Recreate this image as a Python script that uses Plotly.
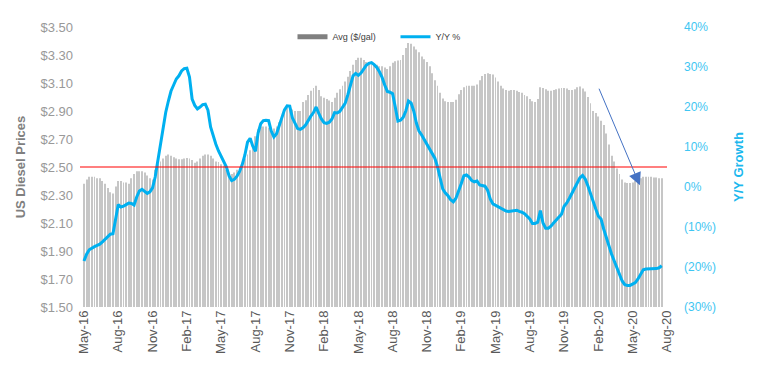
import plotly.graph_objects as go

# ---------------- data ----------------
tick_labels = ["May-16", "Aug-16", "Nov-16", "Feb-17", "May-17", "Aug-17", "Nov-17", "Feb-18",
               "May-18", "Aug-18", "Nov-18", "Feb-19", "May-19", "Aug-19", "Nov-19", "Feb-20",
               "May-20", "Aug-20"]

avg_price = [
    2.38, 2.41, 2.43, 2.43, 2.43, 2.42, 2.42, 2.40, 2.38, 2.35, 2.32, 2.31, 2.36, 2.40, 2.40,
    2.39, 2.39, 2.38, 2.42, 2.45, 2.47, 2.47, 2.47, 2.46, 2.44, 2.42, 2.41, 2.48, 2.52, 2.54,
    2.56, 2.58, 2.59, 2.58, 2.57, 2.56, 2.555,
    2.555, 2.56, 2.565, 2.56, 2.55, 2.53, 2.54, 2.56, 2.58, 2.59, 2.59, 2.58, 2.56, 2.54, 2.535,
    2.52, 2.51, 2.48, 2.45, 2.45, 2.46, 2.48, 2.50, 2.53, 2.56, 2.59, 2.62, 2.65, 2.72, 2.77,
    2.79, 2.79, 2.79, 2.78, 2.78, 2.775,
    2.79, 2.82, 2.85, 2.89, 2.925, 2.94, 2.91, 2.90, 2.90, 2.90, 2.965, 2.977, 3.015, 3.045,
    3.065, 3.08, 3.05, 3.005, 2.995, 2.985, 2.975, 2.965, 2.995, 3.03, 3.055, 3.08, 3.11, 3.145,
    3.185, 3.23, 3.265, 3.28, 3.28, 3.265, 3.25, 3.245,
    3.235, 3.23, 3.23, 3.22, 3.22, 3.21, 3.20, 3.22, 3.245, 3.255, 3.26, 3.265, 3.30, 3.35,
    3.385, 3.38, 3.36, 3.34, 3.32, 3.29, 3.27, 3.25, 3.22, 3.17, 3.12, 3.08, 3.03, 2.99, 2.97,
    2.965, 2.965, 2.965, 2.98, 3.02, 3.05, 3.07,
    3.08, 3.08, 3.08, 3.08, 3.09, 3.12, 3.15, 3.165, 3.17, 3.165, 3.16, 3.14, 3.11, 3.08, 3.06,
    3.05, 3.045, 3.05, 3.05, 3.045, 3.035, 3.03, 3.015, 3.005, 2.985, 2.97, 2.965, 2.985, 3.07,
    3.065, 3.055, 3.045, 3.045, 3.05, 3.055, 3.06, 3.065,
    3.065, 3.06, 3.05, 3.05, 3.055, 3.07, 3.075, 3.06, 3.04, 3.00, 2.955, 2.90, 2.885, 2.86,
    2.83, 2.80, 2.74, 2.66, 2.58, 2.54, 2.49, 2.45, 2.41, 2.39, 2.385, 2.385, 2.39, 2.40, 2.41,
    2.42, 2.43, 2.43, 2.43, 2.43, 2.425, 2.425, 2.42, 2.42,
]

yoy_pct = [
    -18.5, -16.8, -15.7, -15.2, -14.9, -14.6, -14.3, -13.7, -13.0, -12.3, -11.8, -11.7, -8.5,
    -4.4, -5.0, -4.8, -4.4, -4.0, -4.1, -4.5, -2.5, -1.0, -0.6, -1.2, -1.6, -1.2, -0.2, 2.5,
    6.5, 11.2, 15.2, 18.7, 21.5, 24.0, 25.5, 27.0, 27.8,
    29.0, 29.6, 29.7, 27.5, 22.0, 20.4, 19.5, 20.0, 20.6, 20.7, 19.2, 15.0, 12.6, 10.7, 9.0,
    7.7, 6.7, 5.0, 2.8, 1.6, 1.9, 2.7, 3.9, 5.6, 8.0, 11.2, 12.2, 10.2, 8.9, 13.5, 15.8, 16.6,
    16.7, 16.6, 14.0, 12.5,
    13.3, 15.3, 17.6, 19.3, 20.3, 20.2, 17.3, 15.9, 14.6, 14.4, 14.8, 15.5, 16.8, 17.7, 18.6,
    20.0, 18.4, 17.0, 16.1, 15.9, 16.2, 17.0, 18.6, 18.5, 18.9, 19.9, 20.9, 23.0, 25.6, 27.8,
    28.4, 27.9, 28.5, 29.5, 30.4, 30.9,
    31.1, 30.6, 29.9, 28.8, 27.4, 25.5, 23.9, 23.7, 23.3, 20.0, 16.5, 16.7, 17.4, 19.0, 21.5,
    21.0, 19.0, 16.0, 14.0, 13.0, 11.9, 10.7, 9.6, 8.6, 7.2, 5.1, 2.3, -0.5, -1.5, -2.2, -3.2,
    -3.7, -2.8, -1.2, 0.8, 2.8,
    3.0, 2.5, 1.6, 1.3, 1.5, 0.5, 0.4, 0.2, -0.8, -3.0, -4.2, -4.6, -5.0, -5.3, -5.6, -6.0,
    -6.1, -6.0, -5.9, -5.8, -6.1, -6.3, -6.7, -7.4, -8.0, -9.1, -9.1, -8.8, -5.9, -9.0, -10.3,
    -10.3, -9.8, -9.0, -8.3, -7.6, -6.8,
    -4.8, -4.0, -2.8, -1.5, -0.2, 1.3, 2.3, 2.9, 2.0, 0.3, -1.8, -3.8, -5.5, -7.3, -8.0,
    -10.5, -12.8, -15.0, -16.8, -18.5, -20.2, -21.8, -23.5, -24.4, -24.6, -24.6, -24.3, -23.9,
    -23.0, -21.8, -20.7, -20.5, -20.5, -20.5, -20.5, -20.4, -20.2, -19.7,
]

threshold_price = 2.50
weeks_per_tick = 13

# ---------------- figure ----------------
week_idx = list(range(len(avg_price)))
tick_vals = [i * weeks_per_tick for i in range(len(tick_labels))]

FONT = "Liberation Sans, Arial, sans-serif"
CYAN = "#00b0f0"

fig = go.Figure()
fig.add_trace(go.Bar(
    x=week_idx, y=avg_price, name="Avg ($/gal)", marker_color="#c6c6c6",
    marker_line_width=0, showlegend=False, yaxis="y",
))
# legend proxy with a line swatch for the bars
fig.add_trace(go.Scatter(
    x=[None], y=[None], mode="lines", name="Avg ($/gal)",
    line=dict(color="#808080", width=5), yaxis="y",
))
fig.add_trace(go.Scatter(
    x=week_idx, y=yoy_pct, mode="lines", name="Y/Y %",
    line=dict(color=CYAN, width=3), yaxis="y2",
))

fig.add_hline(y=threshold_price, line=dict(color="#ff0000", width=1.2), layer="above")

fig.add_annotation(
    x=210.7, y=2.37, ax=195, ay=3.07, xref="x", yref="y", axref="x", ayref="y",
    text="", showarrow=True, arrowhead=2, arrowsize=2.5, arrowwidth=1,
    arrowcolor="#4472c4",
)

# page body has an 8px margin, so the figure is sized / offset to compensate
fig.update_layout(
    width=756, height=361,
    margin=dict(l=61, r=97, t=14, b=62),
    paper_bgcolor="white", plot_bgcolor="white",
    font=dict(family=FONT),
    bargap=0.65,
    showlegend=True,
    legend=dict(
        orientation="h", x=0.362, y=0.965, xanchor="left", yanchor="middle",
        font=dict(size=9, color="#404040", family=FONT),
        entrywidth=58, entrywidthmode="pixels", bgcolor="rgba(0,0,0,0)",
        itemclick=False,
    ),
    xaxis=dict(
        range=[-1.5, 221], tickmode="array", tickvals=tick_vals, ticktext=tick_labels,
        tickangle=-90, tickfont=dict(size=13, color="#595959"),
        showgrid=False, zeroline=False, showline=False, ticks="",
    ),
    yaxis=dict(
        range=[1.5, 3.5], tickmode="linear", tick0=1.5, dtick=0.2,
        tickprefix="$", tickformat=".2f",
        tickfont=dict(size=13, color="#999999"),
        title=dict(text="US Diesel Prices", standoff=11,
                   font=dict(size=13, color="#7f7f7f", weight="bold")),
        showgrid=False, zeroline=False, showline=False, ticks="",
        ticklabelstandoff=6,
    ),
    yaxis2=dict(
        range=[-30, 40], overlaying="y", side="right",
        tickmode="array", tickvals=[-30, -20, -10, 0, 10, 20, 30, 40],
        ticktext=["(30%)", "(20%)", "(10%)", "0%", "10%", "20%", "30%", "40%"],
        tickfont=dict(size=12, color="#3fc6f2"),
        title=dict(text="Y/Y Growth", standoff=18,
                   font=dict(size=13, color="#1cb8ee", weight="bold")),
        showgrid=False, zeroline=False, showline=False, ticks="",
        ticklabelstandoff=16,
    ),
)

fig.write_html("out.html")
